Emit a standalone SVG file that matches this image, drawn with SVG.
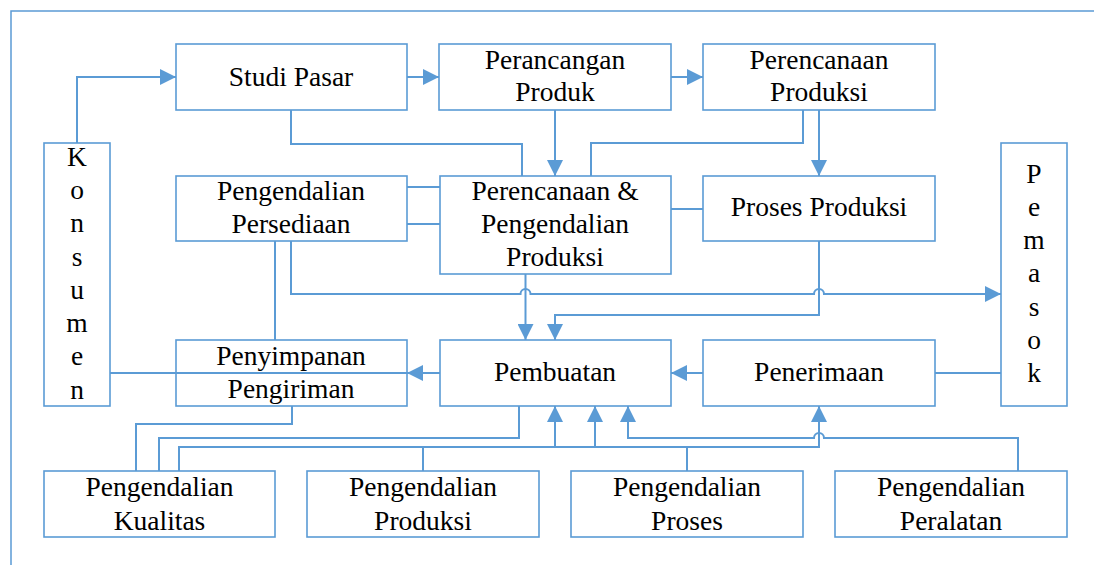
<svg xmlns="http://www.w3.org/2000/svg" width="1094" height="565" viewBox="0 0 1094 565">
<style>
.box{fill:#fff;stroke:#5B9BD5;stroke-width:1.6}
.t{font-family:"Liberation Serif","Times New Roman",serif;font-size:27.5px;fill:#000;text-anchor:middle}
.c{fill:none;stroke:#5B9BD5;stroke-width:2}
.frame{fill:none;stroke:#5B9BD5;stroke-width:1.5}
</style>
<defs>
<marker id="ah" markerUnits="userSpaceOnUse" markerWidth="16" markerHeight="16" refX="16" refY="8" orient="auto">
<path d="M0,0 L16,8 L0,16 z" fill="#5B9BD5"/>
</marker>
</defs>
<path class="frame" d="M11,565 V11 H1094"/>
<g id="konsumen"><rect class="box" x="44" y="143" width="66" height="263"/>
<text class="t" x="77" y="166">K</text><text class="t" x="77" y="199">o</text><text class="t" x="77" y="232">n</text><text class="t" x="77" y="265.5">s</text><text class="t" x="77" y="299">u</text><text class="t" x="77" y="332">m</text><text class="t" x="77" y="365">e</text><text class="t" x="77" y="399">n</text></g>
<g id="pemasok"><rect class="box" x="1001" y="143" width="66" height="263"/>
<text class="t" x="1034" y="182.5">P</text><text class="t" x="1034" y="215.5">e</text><text class="t" x="1034" y="249">m</text><text class="t" x="1034" y="282">a</text><text class="t" x="1034" y="315.5">s</text><text class="t" x="1034" y="349">o</text><text class="t" x="1034" y="382">k</text></g>
<g id="studi-pasar"><rect class="box" x="176" y="44" width="231" height="66"/><text class="t" x="291" y="86">Studi Pasar</text></g>
<g id="perancangan-produk"><rect class="box" x="439" y="44" width="232" height="66"/><text class="t" x="555" y="68.5">Perancangan</text><text class="t" x="555" y="100.5">Produk</text></g>
<g id="perencanaan-produksi"><rect class="box" x="703" y="44" width="232" height="66"/><text class="t" x="819" y="68.5">Perencanaan</text><text class="t" x="819" y="100.5">Produksi</text></g>
<g id="pengendalian-persediaan"><rect class="box" x="176" y="176" width="231" height="65"/><text class="t" x="291" y="199.5">Pengendalian</text><text class="t" x="291" y="233">Persediaan</text></g>
<g id="perencanaan-pengendalian"><rect class="box" x="440" y="176" width="231" height="98"/><text class="t" x="555" y="199.5">Perencanaan &amp;</text><text class="t" x="555" y="233">Pengendalian</text><text class="t" x="555" y="265.5">Produksi</text></g>
<g id="proses-produksi"><rect class="box" x="703" y="176" width="232" height="65"/><text class="t" x="819" y="215.5">Proses Produksi</text></g>
<g id="penyimpanan"><rect class="box" x="176" y="340" width="231" height="66"/><text class="t" x="291" y="364.5">Penyimpanan</text><text class="t" x="291" y="397.5">Pengiriman</text></g>
<g id="pembuatan"><rect class="box" x="440" y="340" width="231" height="66"/><text class="t" x="555" y="380.5">Pembuatan</text></g>
<g id="penerimaan"><rect class="box" x="703" y="340" width="232" height="66"/><text class="t" x="819" y="380.5">Penerimaan</text></g>
<g id="pengendalian-kualitas"><rect class="box" x="44" y="471" width="231" height="66"/><text class="t" x="159.5" y="496">Pengendalian</text><text class="t" x="159.5" y="529.5">Kualitas</text></g>
<g id="pengendalian-produksi"><rect class="box" x="307" y="471" width="232" height="66"/><text class="t" x="423" y="496">Pengendalian</text><text class="t" x="423" y="529.5">Produksi</text></g>
<g id="pengendalian-proses"><rect class="box" x="571" y="471" width="232" height="66"/><text class="t" x="687" y="496">Pengendalian</text><text class="t" x="687" y="529.5">Proses</text></g>
<g id="pengendalian-peralatan"><rect class="box" x="835" y="471" width="232" height="66"/><text class="t" x="951" y="496">Pengendalian</text><text class="t" x="951" y="529.5">Peralatan</text></g>
<g id="connectors">
<path class="c" d="M77,143 V77 H176" marker-end="url(#ah)"/>
<path class="c" d="M407,77 H439" marker-end="url(#ah)"/>
<path class="c" d="M671,77 H703" marker-end="url(#ah)"/>
<path class="c" d="M291,110 V144 H522 V176"/>
<path class="c" d="M555,110 V176" marker-end="url(#ah)"/>
<path class="c" d="M803,110 V143 H591 V176"/>
<path class="c" d="M819,110 V176" marker-end="url(#ah)"/>
<path class="c" d="M407,187 H440"/>
<path class="c" d="M407,224 H440"/>
<path class="c" d="M671,209 H703"/>
<path class="c" d="M275,241 V340"/>
<path class="c" d="M291,241 V294 H520.5 A5,5 0 0 1 530.5,294 H814 A5,5 0 0 1 824,294 H1001" marker-end="url(#ah)"/>
<path class="c" d="M525.5,274 V340" marker-end="url(#ah)"/>
<path class="c" d="M819,241 V315 H555 V340" marker-end="url(#ah)"/>
<path class="c" d="M440,373 H407" marker-end="url(#ah)"/>
<path class="c" d="M110,373 H407"/>
<path class="c" d="M703,373 H671" marker-end="url(#ah)"/>
<path class="c" d="M1001,373 H935"/>
<path class="c" d="M292,406 V424 H136 V471"/>
<path class="c" d="M519,406 V438 H159 V471"/>
<path class="c" d="M179,471 V447 H819 V406" marker-end="url(#ah)"/>
<path class="c" d="M555,447 V406" marker-end="url(#ah)"/>
<path class="c" d="M595,447 V406" marker-end="url(#ah)"/>
<path class="c" d="M423,471 V447"/>
<path class="c" d="M687,471 V447"/>
<path class="c" d="M1018,471 V438 H824 A5,5 0 0 0 814,438 H628 V406" marker-end="url(#ah)"/>
</g>
</svg>
